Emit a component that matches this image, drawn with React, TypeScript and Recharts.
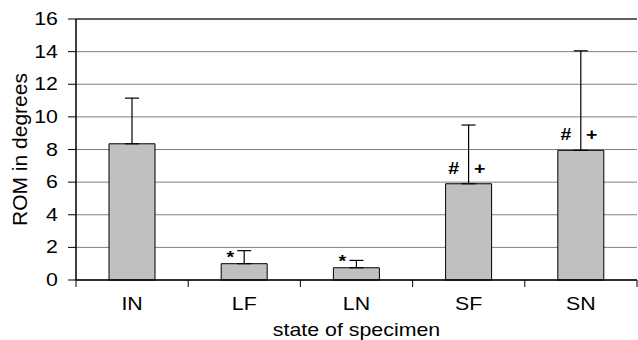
import React from 'react'
import {
  BarChart,
  Bar,
  XAxis,
  YAxis,
  CartesianGrid,
  ErrorBar,
  LabelList,
  ReferenceLine,
} from 'recharts'

// values
const states = ['IN', 'LF', 'LN', 'SF', 'SN']
const romMeans = [8.35, 1.0, 0.75, 5.9, 7.95]
const romSd = [2.8, 0.8, 0.45, 3.6, 6.1]
const marks = ['', '*', '*', '#+', '#+']
const yTicks = [0, 2, 4, 6, 8, 10, 12, 14, 16]

const data = states.map((s, i) => ({
  state: s,
  rom: romMeans[i],
  err: [0, romSd[i]],
  mark: marks[i],
}))

const W = 638
const H = 340
const PLOT_LEFT = 76
const PLOT_RIGHT = 637
const BAND = (PLOT_RIGHT - PLOT_LEFT) / states.length
const FONT = '"Liberation Sans", Arial, sans-serif'
const SX = 1.22 // the source figure's lettering is drawn wide

// text stretched horizontally around its anchor point
const WideText = ({ x, y, anchor = 'middle', size = 17.5, bold = false, children }: any) => (
  <text
    transform={`translate(${x},${y}) scale(${SX},1)`}
    textAnchor={anchor}
    fontSize={size}
    fontWeight={bold ? 'bold' : 'normal'}
    fill="#000"
    fontFamily={FONT}
  >
    {children}
  </text>
)

const CategoryTick = (props: any) => {
  const { x, y, payload, index } = props
  const top = y - 18
  return (
    <g>
      <line x1={x - BAND / 2} y1={top} x2={x - BAND / 2} y2={top + 7} stroke="#000" />
      {index === states.length - 1 && (
        <line x1={x + BAND / 2} y1={top} x2={x + BAND / 2} y2={top + 7} stroke="#000" />
      )}
      <WideText x={x} y={y + 12}>{payload.value}</WideText>
    </g>
  )
}

const ValueTick = (props: any) => {
  const { x, y, payload } = props
  return (
    <WideText x={x} y={y + 6} anchor="end">
      {payload.value}
    </WideText>
  )
}

const MarkLabel = (props: any) => {
  const { x, y, width, value } = props
  if (!value) return null
  const cx = x + width / 2
  if (value === '*') {
    return (
      <WideText x={cx - 14} y={y - 1} size={16} bold>
        *
      </WideText>
    )
  }
  return (
    <g>
      <WideText x={cx - 15} y={y - 10} size={16} bold>#</WideText>
      <WideText x={cx + 11} y={y - 10} size={16} bold>+</WideText>
    </g>
  )
}

export default function App() {
  return (
    <div style={{ width: W, height: H, background: '#fff' }}>
      <style>{'body{margin:0}'}</style>
      <BarChart
        width={W}
        height={H}
        data={data}
        margin={{ top: 19, right: W - PLOT_RIGHT, left: 0, bottom: 0 }}
      >
        <CartesianGrid vertical={false} stroke="#808080" />
        <ReferenceLine y={16} stroke="#000" />
        <XAxis
          dataKey="state"
          height={60}
          tickLine={false}
          tickSize={8}
          tickMargin={10}
          axisLine={{ stroke: '#000', strokeWidth: 1.5 }}
          tick={<CategoryTick />}
          interval={0}
          label={{
            content: (p: any) => {
              const vb = p.viewBox
              return (
                <WideText x={vb.x + vb.width / 2} y={335.5} size={17.5}>
                  state of specimen
                </WideText>
              )
            },
          }}
        />
        <YAxis
          width={PLOT_LEFT}
          domain={[0, 16]}
          ticks={yTicks}
          interval={0}
          tickSize={8}
          tickMargin={10}
          axisLine={{ stroke: '#000', strokeWidth: 1.5 }}
          tickLine={{ stroke: '#000' }}
          tick={<ValueTick />}
          label={{
            content: (p: any) => {
              const vb = p.viewBox
              const cy = vb.y + vb.height / 2
              return (
                <text
                  x={27}
                  y={cy}
                  transform={`rotate(-90, 27, ${cy})`}
                  textAnchor="middle"
                  fontSize={21}
                  fill="#000"
                  fontFamily={FONT}
                >
                  ROM in degrees
                </text>
              )
            },
          }}
        />
        <Bar dataKey="rom" fill="#c0c0c0" stroke="#000" strokeWidth={1} barSize={46} isAnimationActive={false}>
          <ErrorBar dataKey="err" width={7} stroke="#000" strokeWidth={1.2} direction="y" />
          <LabelList dataKey="mark" content={<MarkLabel />} />
        </Bar>
      </BarChart>
    </div>
  )
}
